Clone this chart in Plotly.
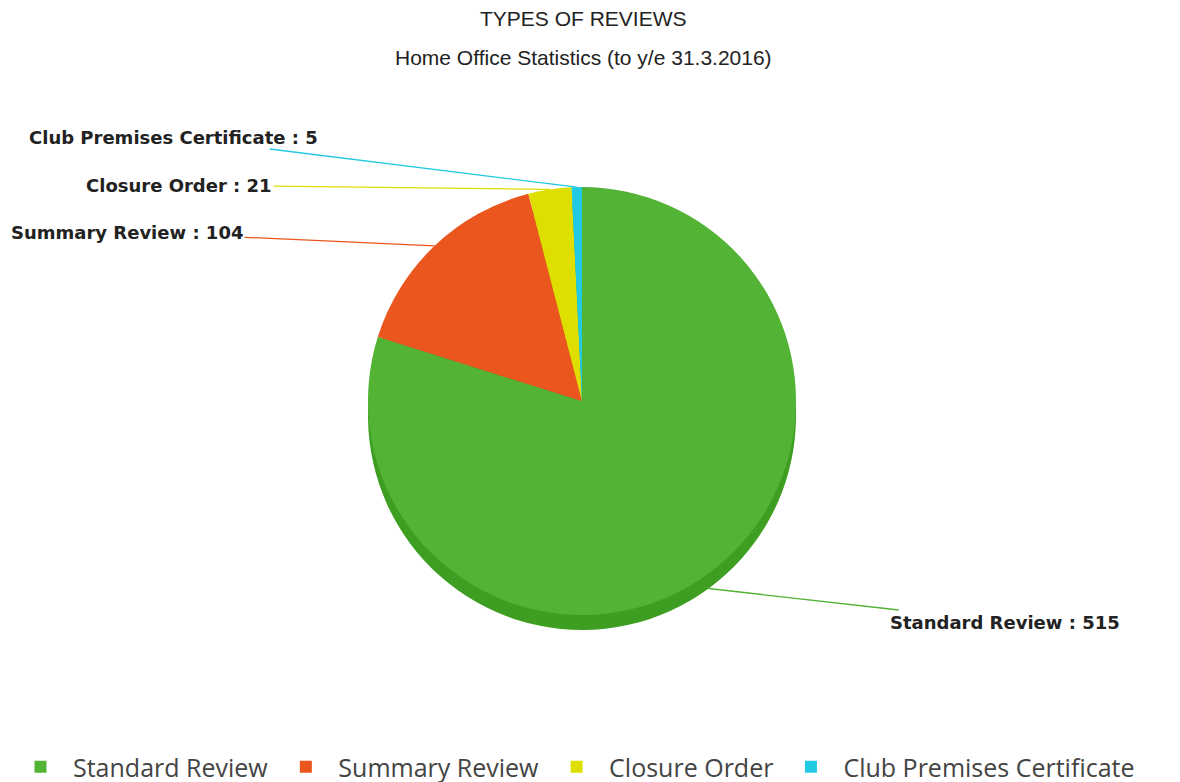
import math
import plotly.graph_objects as go

categories = ["Standard Review", "Summary Review", "Closure Order", "Club Premises Certificate"]
values = [515, 104, 21, 5]
colors = ["#52b335", "#ea561d", "#dede00", "#22c9e3"]
rim_colors = ["#3e9e22", "#c8461a", "#b8b800", "#1aa6bd"]

W, H = 1180, 782
OFF = 8                # page body margin: screen px = figure px + OFF
cx, cy = 582 - OFF, 401 - OFF   # pie centre, figure pixels
R = 214                # pie radius, pixels
depth = 15             # 3D rim depth, pixels

def dom(cx_, cy_):
    return dict(x=[(cx_ - R) / W, (cx_ + R) / W],
                y=[1 - (cy_ + R) / H, 1 - (cy_ - R) / H])

fig = go.Figure()
# darker rim (shifted down) to give a 3D look
fig.add_trace(go.Pie(labels=categories, values=values, sort=False, direction="clockwise",
                     rotation=0, marker=dict(colors=rim_colors, line=dict(width=0)),
                     textinfo="none", hoverinfo="skip", showlegend=False,
                     domain=dom(cx, cy + depth)))
fig.add_trace(go.Pie(labels=categories, values=values, sort=False, direction="clockwise",
                     rotation=0, marker=dict(colors=colors, line=dict(width=0)),
                     textinfo="none", showlegend=True, domain=dom(cx, cy)))

# label text centres (screen pixels)
label_pos = [(1005, 622), (127, 232), (179, 185), (173, 137)]

total = sum(values)
cum = 0
annotations = []
for i, (cat, v) in enumerate(zip(categories, values)):
    mid = (cum + v / 2) / total * 2 * math.pi
    cum += v
    px = cx + R * math.sin(mid)
    py = cy - R * math.cos(mid)
    if math.cos(mid) < 0:
        py += depth
    tx, ty = label_pos[i][0] - OFF, label_pos[i][1] - OFF
    annotations.append(dict(
        x=px / W, y=1 - py / H, xref="paper", yref="paper",
        text=f"<b>{cat} : {v}</b>", showarrow=True, arrowhead=0,
        arrowwidth=1.3, arrowcolor=colors[i],
        ax=tx - px, ay=ty - py, axref="pixel", ayref="pixel",
        font=dict(family="DejaVu Sans", size=18, color="#222"),
    ))

annotations.append(dict(x=(583 - OFF) / W, y=1 - (19 - OFF) / H, xref="paper", yref="paper",
                        showarrow=False, yanchor="middle", text="TYPES OF REVIEWS",
                        font=dict(family="Liberation Sans, Arial", size=21, color="#222")))
annotations.append(dict(x=(583 - OFF) / W, y=1 - (57 - OFF) / H, xref="paper", yref="paper",
                        showarrow=False, yanchor="middle",
                        text="Home Office Statistics (to y/e 31.3.2016)",
                        font=dict(family="Liberation Sans, Arial", size=21, color="#222")))

fig.update_layout(
    width=W, height=H,
    margin=dict(l=0, r=0, t=0, b=0, autoexpand=False),
    paper_bgcolor="white", plot_bgcolor="white",
    annotations=annotations,
    legend=dict(orientation="h", x=0, xanchor="left", y=1 - (767 - OFF) / H, yanchor="middle",
                font=dict(family="Open Sans", size=25, color="#444"),
                itemwidth=55, traceorder="normal"),
)

fig.write_html("out.html")
